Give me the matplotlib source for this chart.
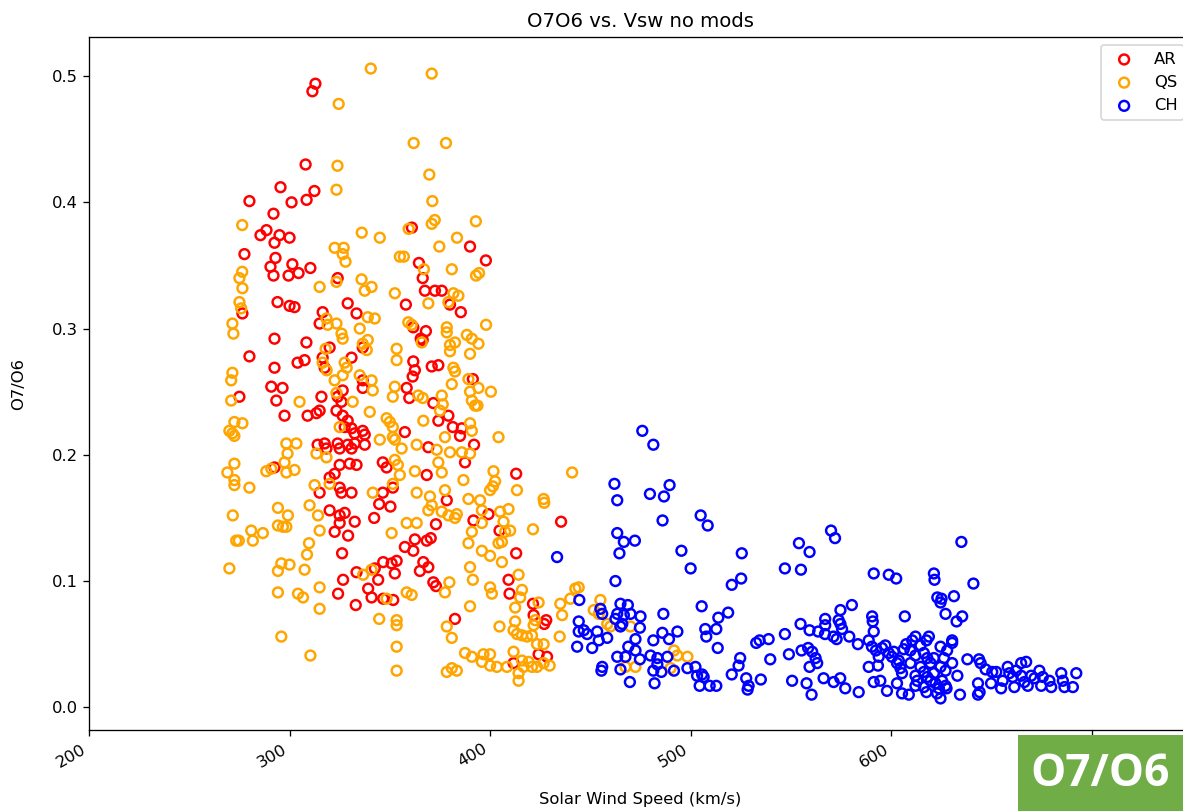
import matplotlib
matplotlib.use("Agg")
import matplotlib.pyplot as plt
from matplotlib.patches import Rectangle

# ---------------- data ----------------
ar_vsw = [312.9, 311.4, 308, 295.5, 312.4, 308.5, 301, 280, 292, 288.5,
          285.5, 295, 292.5, 300, 277.5, 293, 290.5, 301.4, 310.4, 292,
          299.5, 304.5, 324, 361, 390, 364.5, 397.9, 366.4,
          294, 300, 302.5, 329, 333.4, 276.5, 316.5, 315, 292.5, 308.4,
          320, 330.9, 336.5, 280, 304, 307.5, 316.5, 317.5, 292.5, 336.5,
          336.5, 290.9, 296.5, 275, 293.4, 315.9, 324, 325.9, 326.5, 297.5,
          309, 313.4, 315, 323.4, 326.5, 329, 327.5, 330.9, 332.5, 336.5,
          337.5, 314, 317.5, 318.4, 324, 325, 329, 330.9, 332.5, 337.5,
          292.5, 320, 322.5, 325, 330, 333.4, 325, 325.9, 330.9, 346.5,
          348.4, 346.5, 351.5, 315,
          367.5, 372.5, 375.9, 358, 380, 385.4, 361.7, 368, 365.4, 366.4,
          361.7, 362.5, 361.4, 370.9, 374.2, 391.4, 358.4, 359.7, 371.7, 379.2,
          374.2, 381.4, 385.9, 385, 357.5, 369.2, 392, 387.5, 368.4, 413, 378.4,
          320, 325, 327.5, 325, 322.5, 332.5, 329.2, 342.2, 344.7, 350.3,
          326.2, 333.4, 326.7, 324.2, 333, 339.2, 340.9, 342.5, 344.2, 346.7,
          350.9, 352.5, 346.7, 351.7, 353.4,
          373, 391.7, 399.2, 404.7, 435.4, 362.5, 368.4, 370.4, 357.5, 361.7,
          366.7, 369.2, 365, 371.7, 373, 413, 409.2, 409.7, 382.5,
          421.4, 421.7, 427, 428, 424.2, 428.4, 411.7]
ar_o7o6 = [0.494, 0.488, 0.430, 0.412, 0.409, 0.402, 0.400, 0.401, 0.391, 0.378,
           0.374, 0.374, 0.368, 0.372, 0.359, 0.356, 0.349, 0.351, 0.348, 0.342,
           0.342, 0.344, 0.340, 0.380, 0.365, 0.352, 0.354, 0.340,
           0.321, 0.318, 0.317, 0.320, 0.312, 0.312, 0.313, 0.304, 0.292, 0.289,
           0.285, 0.277, 0.285, 0.278, 0.273, 0.275, 0.277, 0.269, 0.269, 0.259,
           0.253, 0.254, 0.253, 0.246, 0.243, 0.246, 0.246, 0.242, 0.251, 0.231,
           0.231, 0.233, 0.235, 0.235, 0.231, 0.227, 0.222, 0.221, 0.217, 0.219,
           0.216, 0.208, 0.209, 0.205, 0.209, 0.205, 0.208, 0.205, 0.209, 0.208,
           0.190, 0.182, 0.185, 0.192, 0.193, 0.192, 0.174, 0.170, 0.170, 0.194,
           0.190, 0.170, 0.174, 0.170,
           0.330, 0.330, 0.330, 0.319, 0.319, 0.313, 0.301, 0.298, 0.292, 0.291,
           0.274, 0.267, 0.262, 0.270, 0.271, 0.260, 0.253, 0.245, 0.241, 0.231,
           0.227, 0.222, 0.221, 0.215, 0.218, 0.206, 0.208, 0.194, 0.184, 0.185, 0.164,
           0.156, 0.152, 0.154, 0.146, 0.139, 0.147, 0.136, 0.150, 0.161, 0.159,
           0.122, 0.107, 0.101, 0.090, 0.081, 0.094, 0.087, 0.110, 0.101, 0.115,
           0.114, 0.106, 0.086, 0.085, 0.116,
           0.145, 0.148, 0.153, 0.140, 0.147, 0.133, 0.132, 0.134, 0.127, 0.124,
           0.115, 0.111, 0.108, 0.099, 0.096, 0.122, 0.101, 0.090, 0.070,
           0.082, 0.073, 0.066, 0.069, 0.042, 0.040, 0.035]

qs_vsw = [340.5, 324.5, 323.9, 323.4, 276.4, 336, 345, 322.5, 327, 326.5,
          327.9, 355, 276.4, 275, 335.9,
          370.9, 361.9, 378, 369.7, 371.2, 370.9, 372.4, 392.9, 359.4, 383.5,
          374.7, 357, 367, 380.9, 393, 394.5,
          276.5, 315, 323.4, 337.5, 340.9, 352.5, 275, 275.9, 271.5, 272,
          318.4, 319, 323.4, 325.9, 326.5, 339, 342.5, 335, 336.5, 338.5,
          339, 318, 316.5, 318.5, 327.5, 328.5, 326.5, 322.5, 335, 340.9,
          341.5, 353.4, 353.4, 271.5, 270.9, 270.9, 305, 323.4, 331.5, 340,
          352.5, 351.5, 348.4, 350, 351.5, 272.5, 276.5, 270, 271.5, 272.5,
          325, 345, 351.5, 352.5, 298.4, 303.4, 299, 297.5, 302.5, 298.4,
          290.9, 288.4, 272.5, 269, 272.5, 272.5, 280, 312.5, 318.4, 313.4,
          320, 341.5, 352.5, 354, 351.5,
          369.2, 381.7, 384.2, 379.2, 398, 359.2, 360.9, 378.4, 378.4, 365.9,
          380, 382.5, 380, 388.4, 390.9, 394.2, 390, 381.7, 382.5, 380.9,
          389.2, 394.2, 390, 400.4, 390.9, 392.5, 393.7, 364.2, 366.4, 375.9,
          376.4, 375, 366.7, 390, 390.9, 377.5, 404.2, 363.4, 373.4, 380,
          385.9, 390, 355.9, 374.2, 362.5, 355, 375.9, 386.7, 401.7, 402.5,
          401.4, 400, 413.4, 440.9, 363.4, 370, 377.5, 389.2, 395, 426.7,
          271.7, 273.4, 274.7, 280.9, 281.7, 286.7, 294.2, 299.2, 294.2, 296.7,
          298.4, 310, 314.2, 315, 309.7, 308.7, 270, 294.2, 295.9, 300,
          307.5, 294.2, 304.2, 306.7, 315, 315, 295.9, 310.4, 336.7, 340.9,
          350.9, 344.7, 353.4, 353.4, 353.4, 353.4, 348.4,
          370.9, 369.2, 358.4, 363.4, 375.9, 379.2, 383.4, 382.5, 395.9, 405,
          409.2, 395.9, 390.9, 406.7, 407.5, 410, 389.2, 395.9, 400, 404.2,
          405.9, 405.9, 421.4, 390, 391.4, 400, 400.9, 379.7, 377.5, 358.4,
          360.9, 390, 414.2, 415.9, 415, 412.5, 424.2, 422.5, 421.7, 435,
          435.9, 442.5, 378.4, 380.9, 404.7, 411.7, 413.4, 415.9, 418.4, 420.9,
          412.5, 423.4, 426.7, 434.7, 387.5, 390.9, 396.7, 400, 395.9, 400,
          403.4, 378.4, 380.9, 383.4, 411.7, 415.9, 416.7, 414.2, 414.2, 419.2,
          420.9, 423.4, 426.7, 429.7, 408.4,
          427, 444.2, 440, 455, 451.7, 454.2, 458.4, 460, 470, 467.5,
          472.5, 491.7, 493.4, 498.4, 490]
qs_o7o6 = [0.506, 0.478, 0.429, 0.410, 0.382, 0.376, 0.372, 0.364, 0.364, 0.359,
           0.353, 0.357, 0.345, 0.340, 0.339,
           0.502, 0.447, 0.447, 0.422, 0.401, 0.383, 0.386, 0.385, 0.379, 0.372,
           0.365, 0.357, 0.347, 0.347, 0.342, 0.344,
           0.332, 0.333, 0.337, 0.330, 0.333, 0.328, 0.321, 0.316, 0.304, 0.296,
           0.308, 0.303, 0.304, 0.296, 0.292, 0.309, 0.308, 0.300, 0.288, 0.283,
           0.291, 0.284, 0.273, 0.267, 0.273, 0.269, 0.263, 0.259, 0.263, 0.259,
           0.251, 0.284, 0.275, 0.265, 0.259, 0.243, 0.242, 0.249, 0.242, 0.234,
           0.254, 0.246, 0.229, 0.226, 0.222, 0.226, 0.225, 0.219, 0.217, 0.215,
           0.222, 0.212, 0.214, 0.212, 0.209, 0.209, 0.201, 0.194, 0.188, 0.186,
           0.189, 0.187, 0.193, 0.186, 0.180, 0.176, 0.174, 0.176, 0.198, 0.201,
           0.177, 0.170, 0.196, 0.192, 0.177,
           0.320, 0.328, 0.326, 0.321, 0.303, 0.305, 0.303, 0.301, 0.297, 0.289,
           0.287, 0.289, 0.282, 0.295, 0.292, 0.288, 0.280, 0.269, 0.266, 0.256,
           0.260, 0.253, 0.250, 0.250, 0.243, 0.239, 0.239, 0.247, 0.245, 0.247,
           0.240, 0.235, 0.227, 0.225, 0.219, 0.214, 0.214, 0.208, 0.204, 0.202,
           0.202, 0.201, 0.205, 0.194, 0.187, 0.184, 0.186, 0.180, 0.187, 0.179,
           0.175, 0.172, 0.172, 0.186, 0.170, 0.167, 0.172, 0.165, 0.164, 0.165,
           0.152, 0.132, 0.132, 0.140, 0.132, 0.138, 0.158, 0.152, 0.144, 0.143,
           0.143, 0.160, 0.152, 0.140, 0.130, 0.121, 0.110, 0.108, 0.114, 0.113,
           0.109, 0.091, 0.090, 0.087, 0.095, 0.078, 0.056, 0.041, 0.105, 0.109,
           0.138, 0.070, 0.069, 0.065, 0.048, 0.029, 0.086,
           0.160, 0.156, 0.146, 0.146, 0.155, 0.152, 0.153, 0.150, 0.156, 0.155,
           0.157, 0.146, 0.139, 0.147, 0.139, 0.140, 0.130, 0.124, 0.120, 0.130,
           0.131, 0.115, 0.141, 0.111, 0.101, 0.095, 0.090, 0.099, 0.091, 0.091,
           0.089, 0.080, 0.105, 0.093, 0.087, 0.079, 0.083, 0.069, 0.065, 0.082,
           0.073, 0.094, 0.064, 0.055, 0.064, 0.061, 0.058, 0.057, 0.056, 0.057,
           0.068, 0.050, 0.050, 0.056, 0.043, 0.040, 0.042, 0.042, 0.036, 0.033,
           0.032, 0.028, 0.031, 0.029, 0.044, 0.037, 0.032, 0.027, 0.021, 0.036,
           0.032, 0.032, 0.035, 0.033, 0.032,
           0.162, 0.095, 0.086, 0.085, 0.077, 0.074, 0.066, 0.064, 0.064, 0.032,
           0.032, 0.045, 0.041, 0.040, 0.031]

ch_vsw = [433.4, 475.9, 481.4, 462, 463.4, 479.7, 486.7, 489.5, 486, 505,
          508.5, 463.4, 466.7, 472.2, 464.5, 495.4, 525.5, 554, 559.3, 500,
          547, 555, 570, 572, 635,
          462.5, 520.5, 525.2, 444.5, 505.5, 518.7, 513.8, 486.4, 465, 468.7,
          455, 455.9, 463.4, 466.7, 470, 475, 462.5, 465.9, 444.2, 444.2,
          446.7, 448.4, 453.4, 454.2, 458.4, 443.4, 450.9, 465, 474.7, 472.5,
          468.9, 472.5, 463.4, 467.5, 474.7, 465, 455.9, 455.5, 469.7, 481.4,
          485.9, 489.2, 493.4, 480, 483.4, 483.4, 481.4, 482, 485.4, 488.4,
          491.7, 498.4, 502.4, 503.2, 505.7, 506.5, 504.5, 509.5, 512.8, 507.3,
          507.8, 512.8, 513.5, 520.5, 523.9, 524.7, 527.7, 528.9, 528.4, 535,
          532.7, 534.4, 538.9, 539.7, 547, 550.6, 554.8, 559.3, 549, 555.3,
          558.6, 560.6, 559.3, 557.8, 560.3, 562.3, 563.1,
          591.3, 598.8, 602.5, 621.3, 621.6, 641, 623, 624.6, 625.1, 631.3,
          627.1, 632.6, 635.4, 606.8, 580.4, 574.7, 567.1, 567.1, 573.8, 574.7,
          575.5, 590.5, 590.8, 563.6, 567, 571.2, 572.8, 579.1, 583.4, 588.8,
          591.3, 590.4, 592.4, 595.4, 597.1, 593.8, 598.8, 600.4, 603.8, 606.3,
          607.5, 610.5, 612.1, 601.3, 602.9, 609.6, 612.1, 609.6, 614.6, 617.6,
          618.8, 616.3, 618, 619.6, 621.3, 614.6, 616.3, 618, 619.6, 621.3,
          622.1, 623.8, 622.9, 624.6, 616.3, 617.6, 612.1, 613, 624.6, 627.9,
          630.4, 630.4, 626.3, 630.4, 624.6, 627.1, 625.4, 627.1, 633, 627.6,
          634.3, 638, 643.8, 644.6, 647.1, 650.4, 643.3, 643.3, 644.1, 649.8,
          652.4, 654.8, 655.6, 658.1, 658.9, 660.6, 661.4, 662.3, 664.8, 667.3,
          664.8, 666.4, 668.1, 669.8, 671.5, 673.9, 675.6, 674.8, 678.9, 679.8,
          684.8, 685.6, 686.4, 690.6, 692.3, 566.3, 571.3, 574.6, 577.1, 583.8,
          588.8, 593.4, 591.3, 594.6, 597.9, 602.9, 605.4, 608.8, 605.4, 604.6,
          612.1]
ch_o7o6 = [0.119, 0.219, 0.208, 0.177, 0.164, 0.169, 0.167, 0.176, 0.148, 0.152,
           0.144, 0.138, 0.131, 0.132, 0.122, 0.124, 0.122, 0.130, 0.123, 0.110,
           0.110, 0.109, 0.140, 0.134, 0.131,
           0.100, 0.097, 0.102, 0.085, 0.080, 0.075, 0.071, 0.074, 0.082, 0.081,
           0.078, 0.074, 0.074, 0.073, 0.074, 0.072, 0.070, 0.066, 0.068, 0.060,
           0.061, 0.058, 0.060, 0.053, 0.055, 0.048, 0.047, 0.064, 0.063, 0.054,
           0.048, 0.045, 0.040, 0.040, 0.038, 0.030, 0.032, 0.029, 0.020, 0.053,
           0.059, 0.054, 0.060, 0.041, 0.039, 0.034, 0.029, 0.019, 0.028, 0.040,
           0.029, 0.031, 0.032, 0.025, 0.026, 0.024, 0.017, 0.017, 0.017, 0.062,
           0.056, 0.062, 0.047, 0.026, 0.033, 0.039, 0.023, 0.017, 0.014, 0.022,
           0.051, 0.053, 0.054, 0.038, 0.058, 0.021, 0.066, 0.061, 0.042, 0.045,
           0.047, 0.044, 0.032, 0.019, 0.010, 0.039, 0.035,
           0.106, 0.105, 0.102, 0.106, 0.101, 0.098, 0.087, 0.083, 0.086, 0.088,
           0.074, 0.068, 0.072, 0.072, 0.081, 0.077, 0.070, 0.065, 0.069, 0.066,
           0.062, 0.072, 0.068, 0.060, 0.058, 0.056, 0.054, 0.056, 0.050, 0.053,
           0.060, 0.048, 0.045, 0.047, 0.049, 0.040, 0.043, 0.040, 0.037, 0.046,
           0.050, 0.053, 0.056, 0.044, 0.035, 0.045, 0.041, 0.035, 0.049, 0.053,
           0.056, 0.043, 0.039, 0.035, 0.039, 0.032, 0.028, 0.024, 0.021, 0.027,
           0.019, 0.015, 0.011, 0.007, 0.016, 0.012, 0.025, 0.021, 0.048, 0.045,
           0.053, 0.051, 0.039, 0.035, 0.032, 0.029, 0.021, 0.017, 0.025, 0.015,
           0.010, 0.038, 0.038, 0.035, 0.030, 0.028, 0.019, 0.010, 0.012, 0.019,
           0.028, 0.015, 0.021, 0.032, 0.027, 0.024, 0.016, 0.029, 0.035, 0.036,
           0.025, 0.020, 0.017, 0.025, 0.023, 0.029, 0.024, 0.017, 0.021, 0.016,
           0.027, 0.021, 0.016, 0.016, 0.027, 0.023, 0.020, 0.023, 0.015, 0.012,
           0.032, 0.033, 0.020, 0.021, 0.013, 0.019, 0.011, 0.010, 0.027, 0.031,
           0.017]

series_labels = ["AR", "QS", "CH"]
series_colors = ["red", "orange", "blue"]
x_ticks = [200, 300, 400, 500, 600, 700]

# ---------------- figure ----------------
W, H, DPI = 1183, 811, 118
fig = plt.figure(figsize=(W / DPI, H / DPI), dpi=DPI)
ax = fig.add_axes([89 / W, 81 / H, 1103 / W, 693 / H])

for xs, ys, lab, col in zip([ar_vsw, qs_vsw, ch_vsw],
                            [ar_o7o6, qs_o7o6, ch_o7o6],
                            series_labels, series_colors):
    ax.scatter(xs, ys, facecolors="none", edgecolors=col, s=36,
               linewidths=1.5, label=lab)

ax.set_xlim(200, 750)
ax.set_ylim(-0.018, 0.531)
ax.set_xticks(x_ticks)
plt.setp(ax.get_xticklabels(), rotation=30, ha="right")
ax.set_title("O7O6 vs. Vsw no mods")
ax.set_xlabel("Solar Wind Speed (km/s)")
ax.set_ylabel("O7/O6")
ax.yaxis.set_label_coords(-0.057, 0.5)
ax.xaxis.set_label_coords(0.5, -0.089)
ax.legend(loc="upper right")

# green tag in the lower right corner
fig.add_artist(Rectangle((1018 / W, 0), 165 / W, 76 / H,
                         transform=fig.transFigure, facecolor="#70ad47",
                         edgecolor="none", zorder=10))
fig.text(1100 / W, 37 / H, "O7/O6", color="white", fontsize=27,
         fontweight="bold", family=["Open Sans", "DejaVu Sans"],
         ha="center", va="center", zorder=11)

fig.savefig("out.png", dpi=DPI)
